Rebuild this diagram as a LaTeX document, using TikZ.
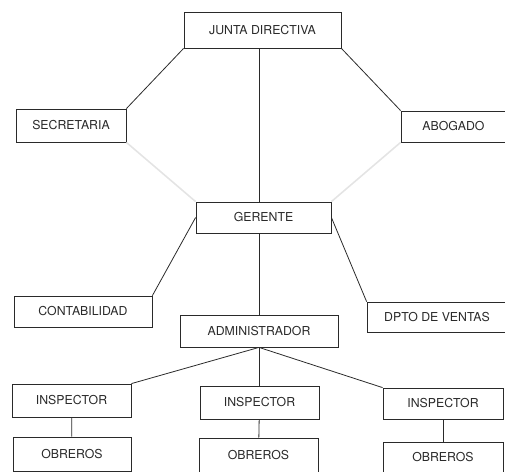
\documentclass[tikz,border=0pt]{standalone}
\usepackage{fontspec}
\setmainfont{TeX Gyre Heros}
\usepackage{tikz}
\usetikzlibrary{calc}
\definecolor{Ink}  {HTML}{2A2A2A}
\definecolor{Faint}{HTML}{E4E4E4}
\tikzset{
  caja/.style args={#1/#2}{
    rectangle, draw=Ink, fill=white, text=Ink,
    font=\fontsize{12.3bp}{14bp}\selectfont,
    inner sep=2pt, minimum width=#1, minimum height=#2,
    line width=0.8pt,
  },
  lin/.style={line width=0.8pt, draw=Ink},
  sombra/.style={line width=1.6pt, draw=Faint},
}
\begin{document}
\begin{tikzpicture}[x=1bp,y=-1bp]
    \useasboundingbox (0,0) rectangle (505,472);
    % cabeza
    \node[caja=157bp/36bp] (junta) at (262.5,30)  {JUNTA DIRECTIVA};
    \node[caja=110bp/33bp] (secr)  at (71,125.5)  {SECRETARIA};
    \node[caja=105bp/31bp] (abog)  at (453.5,126.5) {ABOGADO};
    \node[caja=135bp/31bp] (ger)   at (263.5,217.5) {GERENTE};
    % mandos
    \node[caja=138bp/31bp] (cont)  at (83,311.5)  {CONTABILIDAD};
    \node[caja=140bp/30bp] (dpto)  at (437,317)   {DPTO DE VENTAS};
    \node[caja=158bp/32bp] (admin) at (259,331)   {ADMINISTRADOR};
    % inspectores y obreros
    \node[caja=119bp/33bp] (insA)  at (71.5,400.5)  {INSPECTOR};
    \node[caja=119bp/33bp] (insB)  at (259.5,402.5) {INSPECTOR};
    \node[caja=120bp/31bp] (insC)  at (443,403.5)   {INSPECTOR};
    \node[caja=118bp/34bp] (obrA)  at (72,454)      {OBREROS};
    \node[caja=119bp/34bp] (obrB)  at (258.5,455)   {OBREROS};
    \node[caja=120bp/31bp] (obrC)  at (443,457.5)   {OBREROS};
    % lineas
    \draw[sombra] (secr.south east)--(ger.north west);
    \draw[sombra] (abog.south west)--(ger.north east);
    \draw[lin] (junta.south west)--(secr.north east);
    \draw[lin] (junta.south east)--(abog.north west);
    \draw[lin] (junta.south -| admin)--(ger.north -| admin);
    \draw[lin] (ger.west)--(cont.north east);
    \draw[lin] (ger.east)--(dpto.north west);
    \draw[lin] (ger.south -| admin)--(admin.north);
    \draw[lin] (admin.south)--(insA.north east);
    \draw[lin] (admin.south)--(insB.north -| admin);
    \draw[lin] (admin.south)--(insC.north west);
    \draw[lin] (insA)--(obrA); \draw[lin] (insB)--(obrB);
    \draw[lin] (insC)--(obrC);
\end{tikzpicture}
\end{document}
